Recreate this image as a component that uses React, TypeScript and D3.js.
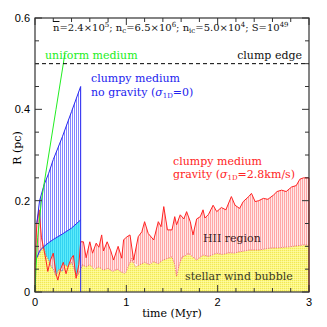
import React from "react"
import * as d3 from "d3"

// outer edge of the HII region, clumpy medium with gravity (t in Myr, R in pc)
const redT = [0, 0.02, 0.045, 0.07, 0.09, 0.12, 0.14, 0.17, 0.2, 0.23, 0.25, 0.28, 0.31, 0.34, 0.37, 0.4, 0.42, 0.45, 0.48, 0.5, 0.53, 0.56, 0.6, 0.63, 0.67, 0.7, 0.73, 0.75, 0.79, 0.83, 0.86, 0.91, 0.95, 0.97, 1.0, 1.04, 1.08, 1.13, 1.17, 1.2, 1.24, 1.3, 1.35, 1.38, 1.41, 1.45, 1.5, 1.53, 1.55, 1.59, 1.63, 1.66, 1.7, 1.73, 1.77, 1.81, 1.84, 1.86, 1.9, 1.95, 1.99, 2.04, 2.09, 2.15, 2.19, 2.24, 2.28, 2.34, 2.37, 2.41, 2.45, 2.5, 2.55, 2.61, 2.65, 2.7, 2.75, 2.81, 2.86, 2.9, 2.94, 3.0]
const redR = [0.06, 0.15, 0.18, 0.12, 0.1, 0.07, 0.045, 0.07, 0.085, 0.04, 0.026, 0.05, 0.065, 0.04, 0.06, 0.075, 0.08, 0.03, 0.06, 0.11, 0.11, 0.075, 0.11, 0.085, 0.107, 0.098, 0.125, 0.09, 0.11, 0.09, 0.07, 0.1, 0.074, 0.114, 0.12, 0.125, 0.07, 0.121, 0.132, 0.154, 0.128, 0.114, 0.154, 0.143, 0.187, 0.136, 0.136, 0.165, 0.147, 0.169, 0.16, 0.176, 0.154, 0.125, 0.16, 0.165, 0.18, 0.162, 0.17, 0.19, 0.176, 0.185, 0.18, 0.209, 0.19, 0.183, 0.198, 0.209, 0.216, 0.198, 0.2, 0.205, 0.203, 0.212, 0.22, 0.223, 0.22, 0.23, 0.233, 0.247, 0.25, 0.25]

// stellar wind bubble
const windT = [0, 0.02, 0.05, 0.09, 0.12, 0.15, 0.18, 0.2, 0.23, 0.26, 0.3, 0.33, 0.36, 0.4, 0.43, 0.46, 0.49, 0.52, 0.56, 0.6, 0.65, 0.7, 0.75, 0.8, 0.85, 0.9, 0.95, 0.99, 1.03, 1.06, 1.1, 1.15, 1.2, 1.25, 1.3, 1.35, 1.4, 1.46, 1.5, 1.53, 1.55, 1.58, 1.61, 1.65, 1.68, 1.72, 1.77, 1.84, 1.9, 1.99, 2.05, 2.12, 2.18, 2.24, 2.3, 2.35, 2.45, 2.57, 2.68, 2.79, 2.9, 2.94, 3.0]
const windR = [0.06, 0.075, 0.085, 0.103, 0.08, 0.07, 0.055, 0.05, 0.035, 0.05, 0.045, 0.06, 0.055, 0.065, 0.05, 0.035, 0.045, 0.06, 0.055, 0.06, 0.05, 0.055, 0.048, 0.052, 0.045, 0.05, 0.043, 0.041, 0.06, 0.074, 0.055, 0.06, 0.065, 0.06, 0.066, 0.062, 0.07, 0.074, 0.077, 0.06, 0.034, 0.06, 0.077, 0.08, 0.085, 0.078, 0.07, 0.081, 0.078, 0.085, 0.082, 0.086, 0.085, 0.088, 0.09, 0.092, 0.092, 0.096, 0.097, 0.099, 0.102, 0.103, 0.103]

// clumpy medium without gravity
const blueT = [0.02, 0.05, 0.1, 0.15, 0.2, 0.3, 0.4, 0.5]
const blueUpper = [0.15, 0.2, 0.235, 0.26, 0.29, 0.34, 0.395, 0.45]
const blueLower = [0.075, 0.09, 0.1, 0.108, 0.115, 0.127, 0.14, 0.158]

// uniform medium
const greenT = [0, 0.01, 0.03, 0.07, 0.15, 0.23, 0.31, 0.325]
const greenR = [0, 0.05, 0.12, 0.2, 0.3, 0.4, 0.5, 0.52]

const clumpEdge = 0.5
const xTicks = [0, 1, 2, 3]
const yTicks = [0, 0.2, 0.4, 0.6]

const W = 327
const H = 327
const serif = "DejaVu Serif"

export default function App() {
	const x = d3.scaleLinear().domain([0, 3]).range([35, 309])
	const y = d3.scaleLinear().domain([0, 0.6]).range([292, 18])

	const red = redT.map((t, i) => ({ t, r: redR[i] }))
	const wind = windT.map((t, i) => ({ t, r: windR[i] }))
	const blue = blueT.map((t, i) => ({ t, hi: blueUpper[i], lo: blueLower[i] }))
	const green = greenT.map((t, i) => ({ t, r: greenR[i] }))

	const windAt = d3.scaleLinear().domain(windT).range(windR)

	const line = d3
		.line<{ t: number; r: number }>()
		.x(d => x(d.t))
		.y(d => y(d.r))

	// HII region: between wind bubble and outer edge
	const redArea = d3
		.area<{ t: number; r: number }>()
		.x(d => x(d.t))
		.y0(d => y(Math.min(windAt(d.t), d.r)))
		.y1(d => y(d.r))
	const windArea = d3
		.area<{ t: number; r: number }>()
		.x(d => x(d.t))
		.y0(y(0))
		.y1(d => y(d.r))
	const blueArea = d3
		.area<{ t: number; hi: number; lo: number }>()
		.x(d => x(d.t))
		.y0(d => y(d.lo))
		.y1(d => y(d.hi))
	const cyanArea = d3
		.area<{ t: number; hi: number; lo: number }>()
		.x(d => x(d.t))
		.y0(y(0))
		.y1(d => y(d.lo))
	const cyanData = [{ t: 0, hi: 0, lo: 0.07 }, ...blue]

	const minorY = d3.range(0, 0.6001, 0.05)
	const minorX = d3.range(0, 3.001, 0.2)

	return (
		<svg
			width={W}
			height={H}
			style={{ position: "absolute", left: 0, top: 0, background: "#fff" }}
		>
			<defs>
				<pattern id="hBlue" width="2" height="4" patternUnits="userSpaceOnUse">
					<rect width="2" height="4" fill="#fff" />
					<rect width="1" height="4" fill="#8585ff" />
				</pattern>
				<pattern id="hCyan" width="2" height="2" patternUnits="userSpaceOnUse">
					<rect width="2" height="2" fill="#5cecfa" />
					<rect width="1" height="2" fill="#33d2f2" />
				</pattern>
				<pattern id="hRed" width="2" height="4" patternUnits="userSpaceOnUse">
					<rect width="2" height="4" fill="#ffe4e4" />
					<rect width="1" height="4" fill="#ff9c9c" />
				</pattern>
				<pattern id="hYellow" width="2" height="2" patternUnits="userSpaceOnUse">
					<rect width="2" height="2" fill="#fffb78" />
					<rect width="1" height="2" fill="#f0e65a" />
					<rect y="1" width="2" height="1" fill="#fffdb8" opacity="0.6" />
				</pattern>
			</defs>

			{/* no-gravity case */}
			<path d={cyanArea(cyanData) ?? ""} fill="url(#hCyan)" />
			<path d={blueArea(blue) ?? ""} fill="url(#hBlue)" />

			{/* gravity case */}
			<path d={windArea(wind) ?? ""} fill="url(#hYellow)" />
			<path d={redArea(red) ?? ""} fill="url(#hRed)" opacity={0.9} />
			<path d={line(wind) ?? ""} fill="none" stroke="#e04848" strokeWidth={0.6} strokeDasharray="1.5 1" />
			<path d={line(red) ?? ""} fill="none" stroke="#ff2424" strokeWidth={1} />
			<line x1={x(0)} x2={x(0)} y1={y(0)} y2={y(redR[0])} stroke="#ff2424" />
			<line x1={x(3)} x2={x(3)} y1={y(0)} y2={y(redR[redR.length - 1])} stroke="#ff2424" />

			{/* no-gravity outlines */}
			<path d={line(blue.map(d => ({ t: d.t, r: d.hi }))) ?? ""} fill="none" stroke="#2a2af0" strokeWidth={1} />
			<path d={line(blue.map(d => ({ t: d.t, r: d.lo }))) ?? ""} fill="none" stroke="#2a2af0" strokeWidth={1} />
			<line x1={x(0.5)} x2={x(0.5)} y1={y(0)} y2={y(blueUpper[blueUpper.length - 1])} stroke="#2a2af0" />
			<path d={line(green) ?? ""} fill="none" stroke="#22ee22" strokeWidth={1} />

			{/* clump edge */}
			<line x1={x(0)} x2={x(3)} y1={y(clumpEdge)} y2={y(clumpEdge)} stroke="#000" strokeDasharray="4 3" />

			{/* frame and ticks */}
			<rect x={x(0)} y={y(0.6)} width={x(3) - x(0)} height={y(0) - y(0.6)} fill="none" stroke="#333" strokeWidth={1.2} />
			{minorY.map((v, i) => {
				const len = i % 4 === 0 ? 7 : 4
				return (
					<g key={"y" + i} stroke="#333">
						<line x1={x(0)} x2={x(0) + len} y1={y(v)} y2={y(v)} />
						<line x1={x(3)} x2={x(3) - len} y1={y(v)} y2={y(v)} />
					</g>
				)
			})}
			{minorX.map((v, i) => {
				const len = i % 5 === 0 ? 7 : 4
				return (
					<g key={"x" + i} stroke="#333">
						<line x1={x(v)} x2={x(v)} y1={y(0)} y2={y(0) - len} />
						<line x1={x(v)} x2={x(v)} y1={y(0.6)} y2={y(0.6) + len} />
					</g>
				)
			})}
			{yTicks.map(v => (
				<text key={v} x={x(0) - 5} y={y(v) + 4} textAnchor="end" fontFamily="Liberation Sans" fontSize={11}>
					{v === 0 ? "0" : v.toFixed(1)}
				</text>
			))}
			{xTicks.map(v => (
				<text key={v} x={x(v)} y={y(0) + 14} textAnchor="middle" fontFamily="Liberation Sans" fontSize={11}>
					{v}
				</text>
			))}
			<text x={172} y={317} textAnchor="middle" fontFamily={serif} fontSize={11}>
				time (Myr)
			</text>
			<text transform="translate(21,148) rotate(-90)" textAnchor="middle" fontFamily={serif} fontSize={11}>
				R (pc)
			</text>

			{/* annotations */}
			<text x={53} y={31} fontFamily={serif} fontSize={10} fill="#111">
				<tspan textDecoration="overline">n</tspan>=2.4×10<tspan dy={-4} fontSize={7}>5</tspan>
				<tspan dy={4}>; n</tspan><tspan dy={2} fontSize={7}>c</tspan>
				<tspan dy={-2}>=6.5×10</tspan><tspan dy={-4} fontSize={7}>6</tspan>
				<tspan dy={4}>; n</tspan><tspan dy={2} fontSize={7}>ic</tspan>
				<tspan dy={-2}>=5.0×10</tspan><tspan dy={-4} fontSize={7}>4</tspan>
				<tspan dy={4}>; S=10</tspan><tspan dy={-4} fontSize={7}>49</tspan>
			</text>
			<text x={45} y={59} fontFamily={serif} fontSize={11} fill="#22ee22">uniform medium</text>
			<text x={302} y={59} textAnchor="end" fontFamily={serif} fontSize={11} fill="#111">clump edge</text>
			<text x={91} y={82} fontFamily={serif} fontSize={11} fill="#2222ee">clumpy medium</text>
			<text x={91} y={96} fontFamily={serif} fontSize={11} fill="#2222ee">
				no gravity (<tspan fontStyle="italic">σ</tspan><tspan dy={2} fontSize={7}>1D</tspan><tspan dy={-2}>=0)</tspan>
			</text>
			<text x={173} y={165} fontFamily={serif} fontSize={11} fill="#ff2424">clumpy medium</text>
			<text x={173} y={178} fontFamily={serif} fontSize={11} fill="#ff2424">
				gravity (<tspan fontStyle="italic">σ</tspan><tspan dy={2} fontSize={7}>1D</tspan><tspan dy={-2}>=2.8km/s)</tspan>
			</text>
			<text x={203} y={242} fontFamily={serif} fontSize={11} fill="#3a2020">HII region</text>
			<text x={185} y={280} fontFamily={serif} fontSize={11} fill="#3a3a20">stellar wind bubble</text>
		</svg>
	)
}
